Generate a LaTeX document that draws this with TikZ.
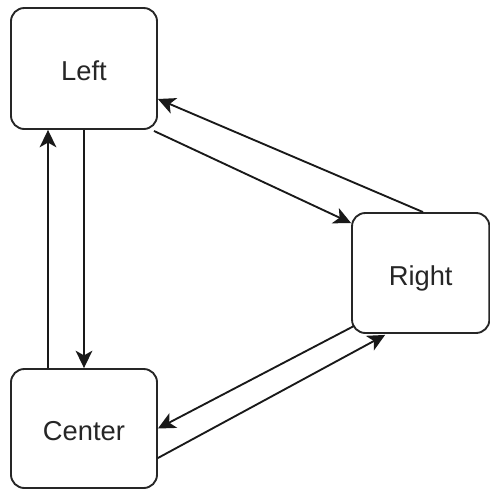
\documentclass[tikz,border=0pt]{standalone}
\usepackage{fontspec}
\setmainfont{Liberation Sans}
\usetikzlibrary{arrows.meta,calc}
\begin{document}
\begin{tikzpicture}[x=0.75pt,y=-0.75pt,
  box/.style={draw=black!85,line width=1.4pt,rounded corners=10pt,fill=white,
    font=\fontsize{20.5}{24}\selectfont,text=black!85,inner sep=0pt,
    text height=18.5pt,text depth=0pt},
  link/.style={line width=1.4pt,draw=black!90,
    -{Stealth[length=13pt,width=12.5pt,inset=3.5pt]}}]
\useasboundingbox (0,0) rectangle (490,490);
% the three boxes
\node[box,minimum width=109.5pt,minimum height=90.75pt] (left) at (84,68.5) {Left};
\node[box,minimum width=103pt,minimum height=90pt] (right) at (420.7,273) {Right};
\node[box,minimum width=109.5pt,minimum height=89.25pt] (center) at (84,428.5) {Center};
% connectors between the boxes
\draw[link] ($(center.north)+(-36,0)$) -- ($(left.south)+(-36,0)$);
\draw[link] (left.south) -- (center.north);
\draw[link] ($(right.north)+(2.3,0)$) -- ($(left.east)+(0,30.5)$);
\draw[link] ($(left.south east)+(-4,1)$) -- ($(right.north west)+(0,11)$);
\draw[link] ($(right.south west)+(3,-8)$) -- (center.east);
\draw[link] ($(center.east)+(0,29.5)$) -- ($(right.south west)+(34,1)$);
\end{tikzpicture}
\end{document}
